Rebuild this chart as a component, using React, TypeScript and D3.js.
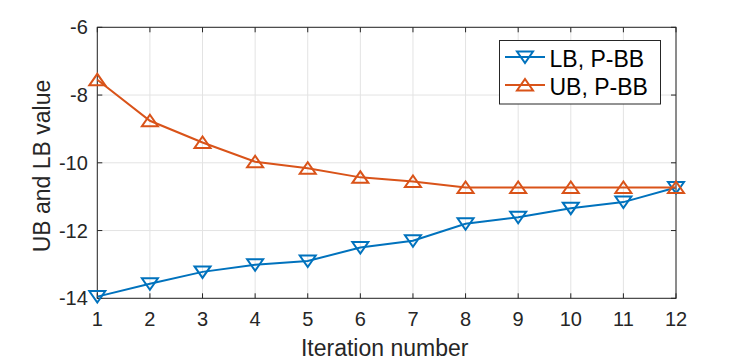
import React, { useRef, useEffect } from 'react';
import * as d3 from 'd3';

const iterations = [1, 2, 3, 4, 5, 6, 7, 8, 9, 10, 11, 12];
const lbValues = [-13.95, -13.57, -13.22, -13.01, -12.9, -12.5, -12.3, -11.8, -11.61, -11.34, -11.16, -10.73];
const ubValues = [-7.55, -8.76, -9.4, -9.97, -10.16, -10.43, -10.55, -10.73, -10.73, -10.73, -10.73, -10.73];
const yTicks = [-14, -12, -10, -8, -6];
const seriesNames = ['LB, P-BB', 'UB, P-BB'];

const App = () => {
    const svgRef = useRef<SVGSVGElement>(null);
    const width = 747;
    const height = 361;
    const margin = { left: 97.3, right: 747 - 676, top: 27.3, bottom: 361 - 298.3 };

    useEffect(() => {
        const svg = d3.select(svgRef.current);
        svg.selectAll('*').remove(); // start fresh

        const x = d3.scaleLinear().domain([1, 12]).range([margin.left, width - margin.right]);
        const y = d3.scaleLinear().domain([-14, -6]).range([height - margin.bottom, margin.top]);
        const font = 'Liberation Sans, Arial, sans-serif';
        const axisColor = '#262626';

        // grid
        const grid = svg.append('g');
        iterations.forEach((d) => {
            grid.append('line')
                .attr('x1', x(d)).attr('x2', x(d))
                .attr('y1', y(-14)).attr('y2', y(-6))
                .attr('stroke', '#e3e3e3').attr('stroke-width', 1);
        });
        yTicks.forEach((d) => {
            grid.append('line')
                .attr('x1', x(1)).attr('x2', x(12))
                .attr('y1', y(d)).attr('y2', y(d))
                .attr('stroke', '#e3e3e3').attr('stroke-width', 1);
        });

        // box + inward ticks
        const axes = svg.append('g').attr('stroke', axisColor).attr('stroke-width', 1);
        axes.append('rect')
            .attr('x', x(1)).attr('y', y(-6))
            .attr('width', x(12) - x(1)).attr('height', y(-14) - y(-6))
            .attr('fill', 'none');
        const tl = 5;
        iterations.forEach((d) => {
            axes.append('line').attr('x1', x(d)).attr('x2', x(d)).attr('y1', y(-14)).attr('y2', y(-14) - tl);
            axes.append('line').attr('x1', x(d)).attr('x2', x(d)).attr('y1', y(-6)).attr('y2', y(-6) + tl);
        });
        yTicks.forEach((d) => {
            axes.append('line').attr('x1', x(1)).attr('x2', x(1) + tl).attr('y1', y(d)).attr('y2', y(d));
            axes.append('line').attr('x1', x(12)).attr('x2', x(12) - tl).attr('y1', y(d)).attr('y2', y(d));
        });

        // tick labels
        const labels = svg.append('g').attr('font-family', font).attr('font-size', 20).attr('fill', axisColor);
        iterations.forEach((d) => {
            labels.append('text')
                .attr('x', x(d)).attr('y', y(-14) + 27.5)
                .attr('text-anchor', 'middle')
                .text(d);
        });
        yTicks.forEach((d) => {
            labels.append('text')
                .attr('x', x(1) - 9.5).attr('y', y(d) + 7)
                .attr('text-anchor', 'end')
                .text(d);
        });

        svg.append('text')
            .attr('x', (x(1) + x(12)) / 2 - 2).attr('y', 356)
            .attr('text-anchor', 'middle')
            .attr('font-family', font).attr('font-size', 23).attr('fill', axisColor)
            .text('Iteration number');
        svg.append('text')
            .attr('transform', `translate(${50},${166}) rotate(-90)`)
            .attr('text-anchor', 'middle')
            .attr('font-family', font).attr('font-size', 23).attr('fill', axisColor)
            .text('UB and LB value');

        const line = d3.line<number>().x((_, i) => x(iterations[i])).y((d) => y(d));
        const down = 'M-8,-5.5L8,-5.5L0,6Z';
        const up = 'M-8,5.5L8,5.5L0,-6Z';

        const series = [
            { values: lbValues, color: '#0072BD', marker: down },
            { values: ubValues, color: '#D95319', marker: up },
        ];

        series.forEach((s) => {
            svg.append('path')
                .attr('d', line(s.values))
                .attr('fill', 'none')
                .attr('stroke', s.color)
                .attr('stroke-width', 2);
            svg.selectAll(null)
                .data(s.values)
                .join('path')
                .attr('d', s.marker)
                .attr('transform', (d, i) => `translate(${x(iterations[i])},${y(d)})`)
                .attr('fill', 'none')
                .attr('stroke', s.color)
                .attr('stroke-width', 2);
        });

        // legend
        const lg = svg.append('g');
        lg.append('rect')
            .attr('x', 499.5).attr('y', 40.5)
            .attr('width', 161).attr('height', 63.5)
            .attr('fill', 'white').attr('stroke', '#262626').attr('stroke-width', 1);
        series.forEach((s, i) => {
            const cy = 57 + i * 28;
            lg.append('line')
                .attr('x1', 505).attr('x2', 545).attr('y1', cy).attr('y2', cy)
                .attr('stroke', s.color).attr('stroke-width', 2);
            lg.append('path')
                .attr('d', s.marker)
                .attr('transform', `translate(525,${cy})`)
                .attr('fill', 'none').attr('stroke', s.color).attr('stroke-width', 2);
            lg.append('text')
                .attr('x', 549.5).attr('y', cy + 9.5)
                .attr('font-family', font).attr('font-size', 23).attr('fill', '#000')
                .text(seriesNames[i]);
        });
    }, []);

    return (
        <svg
            ref={svgRef}
            width={width}
            height={height}
            style={{ position: 'absolute', left: 0, top: 0, background: 'white' }}
        />
    );
};

export default App;
